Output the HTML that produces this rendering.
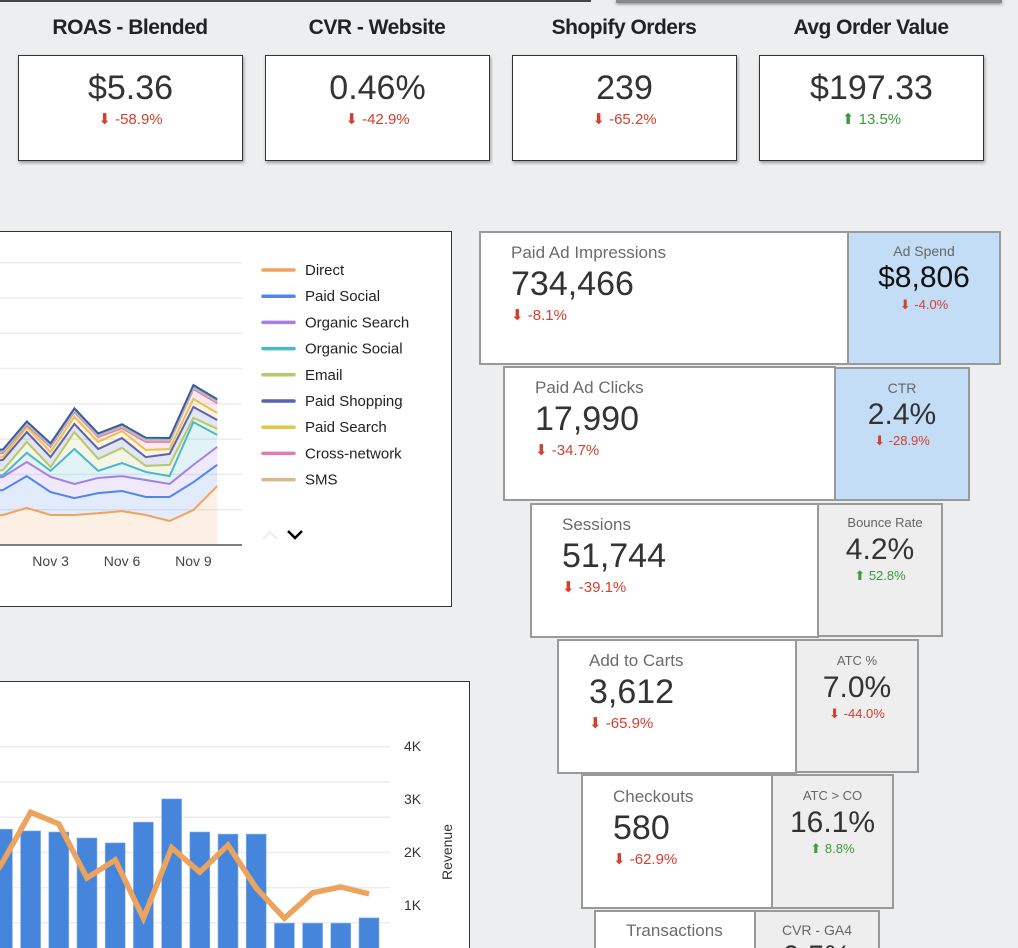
<!DOCTYPE html>
<html style="width:1018px;height:948px;overflow:hidden"><head><meta charset="utf-8">
<style>
*{box-sizing:border-box;margin:0;padding:0}
html,body{overflow:hidden}
body{width:1018px;height:948px;overflow:hidden;background:#edeef0;font-family:"Liberation Sans",Arial,sans-serif;position:relative}
.abs{position:absolute}
.kt{position:absolute;top:16px;width:224px;text-align:center;font-weight:bold;font-size:21px;color:#222;letter-spacing:-0.5px}
.kb{position:absolute;top:55px;width:225px;height:106px;background:#fff;border:1.5px solid #333;box-shadow:1px 2px 3px rgba(0,0,0,.35);text-align:center}
.kv{position:absolute;top:13px;left:0;right:0;font-size:34px;color:#333}
.kc{position:absolute;top:54px;left:0;right:0;font-size:15px}
.dn{color:#d2412f}.up{color:#3c9a3c}
.fb{position:absolute;border:2px solid #999;background:#fff}
.fl{position:absolute;font-size:17px;color:#6b6b6b;white-space:nowrap}
.fv{position:absolute;font-size:34px;color:#333;white-space:nowrap}
.fc{position:absolute;font-size:15px;white-space:nowrap}
.rb{position:absolute;border:2px solid #999;text-align:center}
.rl{position:absolute;left:0;right:0;font-size:14px;color:#666}
.rv{position:absolute;left:0;right:0;font-size:30px;color:#333}
.rc{position:absolute;left:0;right:0;font-size:13px}
.panel{position:absolute;background:#fff;border:1.5px solid #333}
</style></head><body>
<div class="abs" style="left:0;top:0;width:591px;height:2px;background:#444"></div>
<div class="abs" style="left:616px;top:0;width:386px;height:3px;background:#888;box-shadow:0 1px 3px rgba(0,0,0,.5)"></div>

<div class="kt" style="left:18px">ROAS - Blended</div>
<div class="kt" style="left:265px">CVR - Website</div>
<div class="kt" style="left:512px">Shopify Orders</div>
<div class="kt" style="left:759px">Avg Order Value</div>
<div class="kb" style="left:18px"><div class="kv">$5.36</div><div class="kc dn">⬇ -58.9%</div></div>
<div class="kb" style="left:265px"><div class="kv">0.46%</div><div class="kc dn">⬇ -42.9%</div></div>
<div class="kb" style="left:512px"><div class="kv">239</div><div class="kc dn">⬇ -65.2%</div></div>
<div class="kb" style="left:759px"><div class="kv">$197.33</div><div class="kc up">⬆ 13.5%</div></div>

<div class="panel" style="left:-2px;top:231px;width:454px;height:376px"></div>
<div class="panel" style="left:-2px;top:681px;width:472px;height:300px"></div>

<svg id="charts" class="abs" style="left:0;top:0" width="1018" height="948"></svg>

<div class="fb" style="left:479px;top:231px;width:370px;height:134px"><div class="fl" style="left:30px;top:10px">Paid Ad Impressions</div><div class="fv" style="left:30px;top:32px">734,466</div><div class="fc dn" style="left:30px;top:73px">⬇ -8.1%</div></div>
<div class="rb" style="left:847px;top:231px;width:154px;height:134px;background:#c3ddf6"><div class="rl" style="top:10px">Ad Spend</div><div class="rv" style="top:28px;color:#111">$8,806</div><div class="rc dn" style="top:64px">⬇ -4.0%</div></div>

<div class="fb" style="left:503px;top:366px;width:333px;height:135px"><div class="fl" style="left:30px;top:10px">Paid Ad Clicks</div><div class="fv" style="left:30px;top:32px">17,990</div><div class="fc dn" style="left:30px;top:73px">⬇ -34.7%</div></div>
<div class="rb" style="left:834px;top:367px;width:136px;height:134px;background:#c3ddf6"><div class="rl" style="top:11px">CTR</div><div class="rv" style="top:29px">2.4%</div><div class="rc dn" style="top:64px">⬇ -28.9%</div></div>

<div class="fb" style="left:530px;top:503px;width:289px;height:135px"><div class="fl" style="left:30px;top:10px">Sessions</div><div class="fv" style="left:30px;top:32px">51,744</div><div class="fc dn" style="left:30px;top:73px">⬇ -39.1%</div></div>
<div class="rb" style="left:817px;top:503px;width:126px;height:134px;background:#eeeeee"><div class="rl" style="top:10px;font-size:13px;left:10px">Bounce Rate</div><div class="rv" style="top:28px">4.2%</div><div class="rc up" style="top:63px">⬆ 52.8%</div></div>

<div class="fb" style="left:557px;top:639px;width:240px;height:135px"><div class="fl" style="left:30px;top:10px">Add to Carts</div><div class="fv" style="left:30px;top:32px">3,612</div><div class="fc dn" style="left:30px;top:73px">⬇ -65.9%</div></div>
<div class="rb" style="left:795px;top:639px;width:124px;height:134px;background:#eeeeee"><div class="rl" style="top:12px;font-size:13px">ATC %</div><div class="rv" style="top:30px">7.0%</div><div class="rc dn" style="top:65px">⬇ -44.0%</div></div>

<div class="fb" style="left:581px;top:774px;width:192px;height:135px"><div class="fl" style="left:30px;top:11px">Checkouts</div><div class="fv" style="left:30px;top:33px">580</div><div class="fc dn" style="left:30px;top:74px">⬇ -62.9%</div></div>
<div class="rb" style="left:771px;top:774px;width:123px;height:135px;background:#eeeeee"><div class="rl" style="top:12px;font-size:13px">ATC &gt; CO</div><div class="rv" style="top:30px">16.1%</div><div class="rc up" style="top:65px">⬆ 8.8%</div></div>

<div class="fb" style="left:594px;top:910px;width:162px;height:60px;overflow:hidden"><div class="fl" style="left:30px;top:9px">Transactions</div><div class="fv" style="left:30px;top:30px">239</div></div>
<div class="rb" style="left:754px;top:910px;width:126px;height:60px;background:#eeeeee;overflow:hidden"><div class="rl" style="top:10px;font-size:14px">CVR - GA4</div><div class="rv" style="top:28px">0.5%</div></div>

<script>
const areaDates=["Oct 31","Nov 1","Nov 2","Nov 3","Nov 4","Nov 5","Nov 6","Nov 7","Nov 8","Nov 9","Nov 10"];
const areaSeriesNames=["Direct","Paid Social","Organic Search","Organic Social","Email","Paid Shopping","Paid Search","Cross-network","SMS","Referral","Affiliate"];
const direct=[800,850,1050,850,850,900,960,850,680,990,1670];
const paidSocial=[650,710,900,650,480,570,570,510,680,790,600];
const organicSearch=[380,370,400,430,400,430,420,480,370,490,510];
const organicSocial=[80,50,260,170,990,200,370,230,220,1210,340];
const email=[150,140,310,110,480,340,430,170,320,120,170];
const paidShopping=[280,290,280,280,230,280,280,250,310,310,250];
const paidSearch=[90,80,140,140,200,200,200,200,140,230,200];
const crossNetwork=[110,120,60,150,140,140,80,230,200,280,280];
const sms=[40,40,40,40,40,40,40,40,40,40,40];
const referral=[30,30,30,30,30,30,40,50,40,40,40];
const affiliate=[30,30,30,30,30,30,30,30,30,30,30];
const areaSeries=[direct,paidSocial,organicSearch,organicSocial,email,paidShopping,paidSearch,crossNetwork,sms,referral,affiliate];
const areaColors=["#f0a35e","#4e86f0","#a57ee6","#4bb7c9","#b5c96d","#5b62b4","#e8c34a","#e27bb1","#d9b98a","#7cc4e8","#3d5a99"];
const areaTickLabels=["Nov 3","Nov 6","Nov 9"];
const legendNames=["Direct","Paid Social","Organic Search","Organic Social","Email","Paid Shopping","Paid Search","Cross-network","SMS"];

const barDays=[0,1,2,3,4,5,6,7,8,9,10,11,12,13];
const orders=[36.6,36.1,35.8,34.1,32.7,38.6,45.2,35.8,35.2,35.2,9.9,9.9,9.9,11.4];
const revenueDays=[-1,0,1,2,3,4,5,6,7,8,9,10,11,12,13];
const revenue=[1.0,1.8,2.75,2.53,1.51,1.85,0.75,2.08,1.62,2.13,1.32,0.75,1.23,1.34,1.21];
const revenueTicks=[1,2,3,4];
const revenueTickLabels=["1K","2K","3K","4K"];

const NS="http://www.w3.org/2000/svg";
const svg=document.getElementById('charts');
function mk(tag,attrs,parent){const e=document.createElementNS(NS,tag);for(const k in attrs)e.setAttribute(k,attrs[k]);(parent||svg).appendChild(e);return e;}

const ax=i=>-20.8+i*23.8;
const ay=v=>545-v*0.0353;
const defs=mk('defs',{});
const ag=mk('g',{'clip-path':'url(#areaClip)'});
const cp=mk('clipPath',{id:'areaClip'},defs);mk('rect',{x:0,y:232,width:243,height:314},cp);


for(let k=1;k<=8;k++){const gl=mk('line',{x1:0,x2:242,y1:ay(k*1000),y2:ay(k*1000),stroke:'#ececec','stroke-width':1.5},ag);

}
const cum=areaDates.map(()=>0);
const tops=[];
areaSeries.forEach((s,si)=>{const lower=cum.slice();s.forEach((v,i)=>cum[i]+=v);const upper=cum.slice();tops.push(upper);
 let d='M'+areaDates.map((_,i)=>ax(i)+','+ay(upper[i])).join(' L');
 for(let i=areaDates.length-1;i>=0;i--)d+=' L'+ax(i)+','+ay(lower[i]);
 const p=mk('path',{d:d+'Z',fill:areaColors[si],'fill-opacity':0.17},ag);
 
 });
tops.forEach((u,si)=>{const l=mk('polyline',{points:areaDates.map((_,i)=>ax(i)+','+ay(u[i])).join(' '),fill:'none',stroke:areaColors[si],'stroke-width':2},ag);
 
 });
const axl=mk('line',{x1:0,x2:242,y1:545,y2:545,stroke:'#555','stroke-width':1.5});


areaTickLabels.forEach(t=>{const i=areaDates.indexOf(t);const tx=mk('text',{x:ax(i),y:566,'text-anchor':'middle','font-size':14,fill:'#444','font-family':'Liberation Sans, sans-serif'});tx.textContent=t;
 
 });
legendNames.forEach((n,i)=>{const y=270+i*26.2;const g=mk('g',{});
 
 
 mk('line',{x1:263,x2:294,y1:y,y2:y,stroke:areaColors[i],'stroke-width':3.5,'stroke-linecap':'round'},g);
 const t=mk('text',{x:305,y:y+5,'font-size':15,fill:'#222','font-family':'Liberation Sans, sans-serif'},g);t.textContent=n;});
const upA=mk('polyline',{points:'263,539 270,532 277,539',fill:'none',stroke:'#eee','stroke-width':2});


const dnA=mk('polyline',{points:'288,531 295,538 302,531',fill:'none',stroke:'#000','stroke-width':2.5});



const bx=i=>2.4+i*28.2;
const by=v=>958-v*3.52;
const ry=v=>958-v*53;
const bg=mk('g',{'clip-path':'url(#barClip)'});


const cp2=mk('clipPath',{id:'barClip'},defs);mk('rect',{x:0,y:682,width:400,height:266},cp2);
for(let k=1;k<=6;k++){const gl=mk('line',{x1:0,x2:390,y1:by(k*10),y2:by(k*10),stroke:'#ececec','stroke-width':1.5},bg);
 
 }
orders.forEach((v,i)=>{const r=mk('rect',{x:bx(barDays[i])-10,y:by(v),width:20,height:v*3.52,fill:'#4586dc',stroke:'#8fb4ea','stroke-width':0.6},bg);
 
 });
const rl=mk('polyline',{points:revenue.map((v,i)=>bx(revenueDays[i])+','+ry(v)).join(' '),fill:'none',stroke:'#eca35d','stroke-width':5.5,'stroke-linejoin':'miter'},bg);


revenueTicks.forEach((v,i)=>{const t=mk('text',{x:404,y:ry(v)+5,'font-size':14,fill:'#333','font-family':'Liberation Sans, sans-serif'});t.textContent=revenueTickLabels[i];
 
 });
const yt=mk('text',{x:452,y:852,'font-size':14,fill:'#333','text-anchor':'middle',transform:'rotate(-90 452 852)','font-family':'Liberation Sans, sans-serif'});yt.textContent='Revenue';


</script>
</body></html>
